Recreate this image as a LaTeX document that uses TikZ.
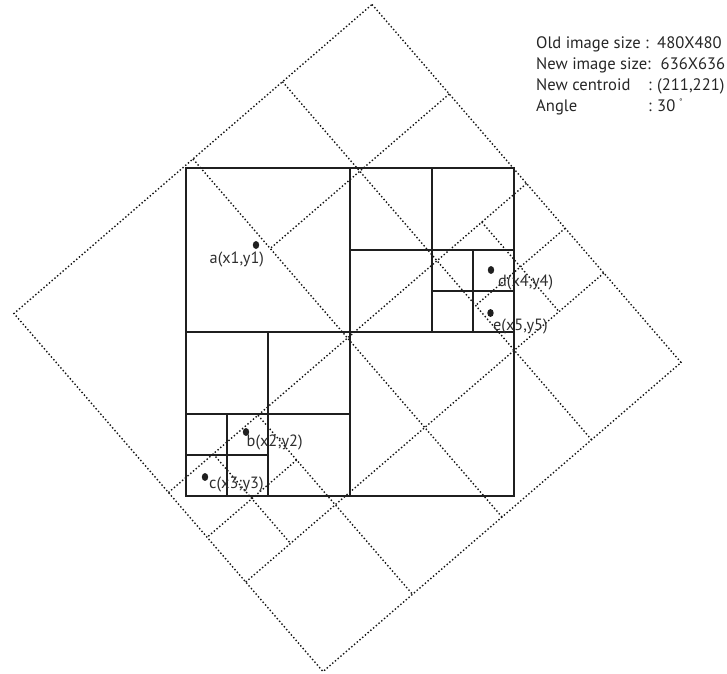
\documentclass[tikz,border=0pt]{standalone}
\usepackage{fontspec}
\setmainfont{PT Sans}
\usetikzlibrary{shapes.geometric}
\begin{document}
\begin{tikzpicture}[x=1pt,y=-1pt,
  gridline/.style={line width=1.5pt, draw=black!88, line cap=rect},
  dotline/.style={line width=1.4pt, draw=black!92, dash pattern=on 1.4pt off 2.2pt},
  dotnode/.style={ellipse, fill=black!88, draw=none, minimum width=6.4pt, minimum height=7.8pt, inner sep=0pt},
  lbl/.style={font=\fontsize{16.3}{16}\selectfont, text=black!82, inner sep=0pt, anchor=base west},
  info/.style={font=\fontsize{16.6}{16}\selectfont, text=black!85, inner sep=0pt, anchor=base west}]
\useasboundingbox (0,0) rectangle (727,673);
% rotated quadtree (dotted)
\def\H{236.5}\def\Hh{118.25}\def\Hq{59.125}\def\Ht{177.375}
\begin{scope}[shift={(347.5,338)}, rotate=-49.2]
  \draw[dotline] (-\H,-\H) -- (\H,-\H) -- (\H,\H) -- (-\H,\H) -- cycle;
  \draw[dotline] (0,-\H) -- (0,\H);
  \draw[dotline] (-\H,0) -- (\H,0);
  \draw[dotline] (-\H,-\Hh) -- (\H,-\Hh);
  \draw[dotline] (-\Hh,-\H) -- (-\Hh,0);
  \draw[dotline] (\Hh,-\H) -- (\Hh,\H);
  \draw[dotline] (0,\Hh) -- (\H,\Hh);
  \draw[dotline] (\Hq,-\H) -- (\Hq,-\Hh);
  \draw[dotline] (0,-\Ht) -- (\Hh,-\Ht);
  \draw[dotline] (\Hq,\Hh) -- (\Hq,\H);
  \draw[dotline] (0,\Ht) -- (\Hh,\Ht);
\end{scope}
% original quadtree (solid)
\draw[gridline] (186,168) rectangle (514,496);
\draw[gridline] (350,168) -- (350,496);
\draw[gridline] (186,332) -- (514,332);
\draw[gridline] (432,168) -- (432,332);
\draw[gridline] (350,250) -- (514,250);
\draw[gridline] (473,250) -- (473,332);
\draw[gridline] (432,291) -- (514,291);
\draw[gridline] (268,332) -- (268,496);
\draw[gridline] (186,414) -- (350,414);
\draw[gridline] (227,414) -- (227,496);
\draw[gridline] (186,455) -- (268,455);
% points
\node[dotnode] (a) at (256,245) {};
\node[dotnode] (b) at (246,432) {};
\node[dotnode] (c) at (205,477) {};
\node[dotnode] (d) at (491,270) {};
\node[dotnode] (e) at (490.5,313) {};
\node[lbl] (alab) at (209.5,263.5) {a(x1,y1)};
\node[lbl] (blab) at (246.5,446) {b(x2;y2)};
\node[lbl] (clab) at (209,488.5) {c(x3;y3)};
\node[lbl] (dlab) at (498,286.5) {d(x4,y4)};
\node[lbl] (elab) at (493,330) {e(x5,y5)};
% info
\node[info] (i1) at (536,48.5) {Old image size :};
\node[info] (i1v) at (657,48.5) {480X480};
\node[info] (i2) at (536,69.5) {New image size:};
\node[info] (i2v) at (660.5,69.5) {636X636};
\node[info] (i3) at (536,90.5) {New centroid};
\node[info] (i3c) at (648,90.5) {:};
\node[info] (i3v) at (657,90.5) {(211,221)};
\node[info] (i4) at (536,111) {Angle};
\node[info] (i4c) at (648,111) {:};
\node[info] (i4v) at (657,111) {30};
\node[font=\fontsize{8}{8}\selectfont, inner sep=0pt, anchor=base west, text=black!85] (deg) at (679,104) {°};
\end{tikzpicture}
\end{document}
